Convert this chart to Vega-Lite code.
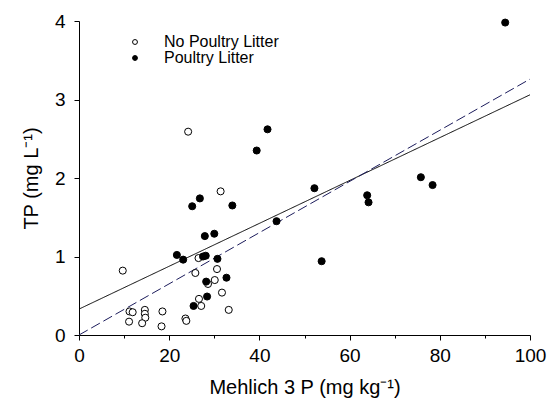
{
  "$schema": "https://vega.github.io/schema/vega-lite/v6.json",
  "autosize": "none",
  "width": 451,
  "height": 314,
  "padding": {"left": 79, "top": 21, "right": 27, "bottom": 73},
  "background": "white",
  "config": {
    "view": {"stroke": null},
    "font": "Liberation Sans",
    "axis": {"grid": false, "domainColor": "black", "tickColor": "black", "labelColor": "black", "titleColor": "black", "labelFont": "Liberation Sans", "titleFont": "Liberation Sans", "labelFontSize": 19, "titleFontSize": 20, "titleFontWeight": "normal", "domainWidth": 1, "tickWidth": 1}
  },
  "datasets": {
    "pts": [
      {"m3p": 24.2, "tp": 2.59, "group": "No Poultry Litter"},
      {"m3p": 31.4, "tp": 1.83, "group": "No Poultry Litter"},
      {"m3p": 9.7, "tp": 0.82, "group": "No Poultry Litter"},
      {"m3p": 26.5, "tp": 0.98, "group": "No Poultry Litter"},
      {"m3p": 25.8, "tp": 0.79, "group": "No Poultry Litter"},
      {"m3p": 30.6, "tp": 0.84, "group": "No Poultry Litter"},
      {"m3p": 30.1, "tp": 0.7, "group": "No Poultry Litter"},
      {"m3p": 28.6, "tp": 0.65, "group": "No Poultry Litter"},
      {"m3p": 31.7, "tp": 0.54, "group": "No Poultry Litter"},
      {"m3p": 26.6, "tp": 0.46, "group": "No Poultry Litter"},
      {"m3p": 27.1, "tp": 0.37, "group": "No Poultry Litter"},
      {"m3p": 33.2, "tp": 0.32, "group": "No Poultry Litter"},
      {"m3p": 11.2, "tp": 0.3, "group": "No Poultry Litter"},
      {"m3p": 11.9, "tp": 0.29, "group": "No Poultry Litter"},
      {"m3p": 14.6, "tp": 0.32, "group": "No Poultry Litter"},
      {"m3p": 14.6, "tp": 0.27, "group": "No Poultry Litter"},
      {"m3p": 14.7, "tp": 0.22, "group": "No Poultry Litter"},
      {"m3p": 11.1, "tp": 0.17, "group": "No Poultry Litter"},
      {"m3p": 14.0, "tp": 0.15, "group": "No Poultry Litter"},
      {"m3p": 18.5, "tp": 0.3, "group": "No Poultry Litter"},
      {"m3p": 18.3, "tp": 0.11, "group": "No Poultry Litter"},
      {"m3p": 23.6, "tp": 0.21, "group": "No Poultry Litter"},
      {"m3p": 23.8, "tp": 0.18, "group": "No Poultry Litter"},
      {"m3p": 39.4, "tp": 2.35, "group": "Poultry Litter"},
      {"m3p": 26.8, "tp": 1.74, "group": "Poultry Litter"},
      {"m3p": 25.1, "tp": 1.64, "group": "Poultry Litter"},
      {"m3p": 34.0, "tp": 1.65, "group": "Poultry Litter"},
      {"m3p": 27.9, "tp": 1.26, "group": "Poultry Litter"},
      {"m3p": 30.0, "tp": 1.29, "group": "Poultry Litter"},
      {"m3p": 21.7, "tp": 1.02, "group": "Poultry Litter"},
      {"m3p": 23.1, "tp": 0.96, "group": "Poultry Litter"},
      {"m3p": 27.5, "tp": 1.0, "group": "Poultry Litter"},
      {"m3p": 28.1, "tp": 1.01, "group": "Poultry Litter"},
      {"m3p": 30.7, "tp": 0.97, "group": "Poultry Litter"},
      {"m3p": 32.7, "tp": 0.73, "group": "Poultry Litter"},
      {"m3p": 28.2, "tp": 0.68, "group": "Poultry Litter"},
      {"m3p": 28.4, "tp": 0.49, "group": "Poultry Litter"},
      {"m3p": 25.4, "tp": 0.37, "group": "Poultry Litter"},
      {"m3p": 41.8, "tp": 2.62, "group": "Poultry Litter"},
      {"m3p": 52.2, "tp": 1.87, "group": "Poultry Litter"},
      {"m3p": 43.8, "tp": 1.45, "group": "Poultry Litter"},
      {"m3p": 53.8, "tp": 0.94, "group": "Poultry Litter"},
      {"m3p": 63.9, "tp": 1.78, "group": "Poultry Litter"},
      {"m3p": 64.2, "tp": 1.69, "group": "Poultry Litter"},
      {"m3p": 75.8, "tp": 2.01, "group": "Poultry Litter"},
      {"m3p": 78.4, "tp": 1.91, "group": "Poultry Litter"},
      {"m3p": 94.5, "tp": 3.98, "group": "Poultry Litter"}
    ],
    "fits": [
      {"m3p": 0, "tp": 0.33, "fit": "all"},
      {"m3p": 100, "tp": 3.06, "fit": "all"},
      {"m3p": 0, "tp": 0.0, "fit": "origin"},
      {"m3p": 100, "tp": 3.26, "fit": "origin"}
    ]
  },
  "layer": [
    {
      "data": {"name": "fits"},
      "mark": {"type": "line", "strokeWidth": 1, "clip": true},
      "encoding": {
        "x": {"field": "m3p", "type": "quantitative", "scale": {"domain": [0, 100], "nice": false, "zero": false},
          "axis": {"title": "Mehlich 3 P (mg kg⁻¹)", "values": [0, 10, 20, 30, 40, 50, 60, 70, 80, 90, 100],
            "labelExpr": "datum.value % 20 === 0 ? datum.label : ''",
            "tickSize": {"condition": {"test": "datum.value % 20 !== 0", "value": 3}, "value": 5},
            "labelPadding": 6, "titlePadding": 12, "labelFlush": false}},
        "y": {"field": "tp", "type": "quantitative", "scale": {"domain": [0, 4], "nice": false},
          "axis": {"title": "TP (mg L⁻¹)", "values": [0, 0.5, 1, 1.5, 2, 2.5, 3, 3.5, 4],
            "labelExpr": "datum.value % 1 === 0 ? format(datum.value, 'd') : ''",
            "tickSize": {"condition": {"test": "datum.value % 1 !== 0", "value": 3}, "value": 5},
            "labelPadding": 9, "titlePadding": 13, "labelFlush": false}},
        "detail": {"field": "fit"},
        "strokeDash": {"field": "fit", "type": "nominal", "scale": {"domain": ["all", "origin"], "range": [[1, 0], [10, 4]]}, "legend": null},
        "color": {"field": "fit", "type": "nominal", "scale": {"domain": ["all", "origin"], "range": ["#000000", "#1c1c5c"]}, "legend": null}
      }
    },
    {
      "data": {"name": "pts"},
      "mark": {"type": "point", "shape": "circle", "size": 50, "stroke": "black", "strokeWidth": 1, "opacity": 1},
      "encoding": {
        "x": {"field": "m3p", "type": "quantitative"},
        "y": {"field": "tp", "type": "quantitative"},
        "fill": {"field": "group", "type": "nominal",
          "scale": {"domain": ["No Poultry Litter", "Poultry Litter"], "range": ["white", "black"]},
          "legend": {"title": null, "orient": "none", "legendX": 48, "legendY": 13, "symbolSize": 24, "symbolStrokeColor": "black", "symbolStrokeWidth": 1, "symbolType": "circle", "labelFontSize": 16, "labelFont": "Liberation Sans", "labelColor": "black", "labelOffset": 21, "rowPadding": 0, "symbolOffset": 0}
        }
      }
    }
  ]
}
